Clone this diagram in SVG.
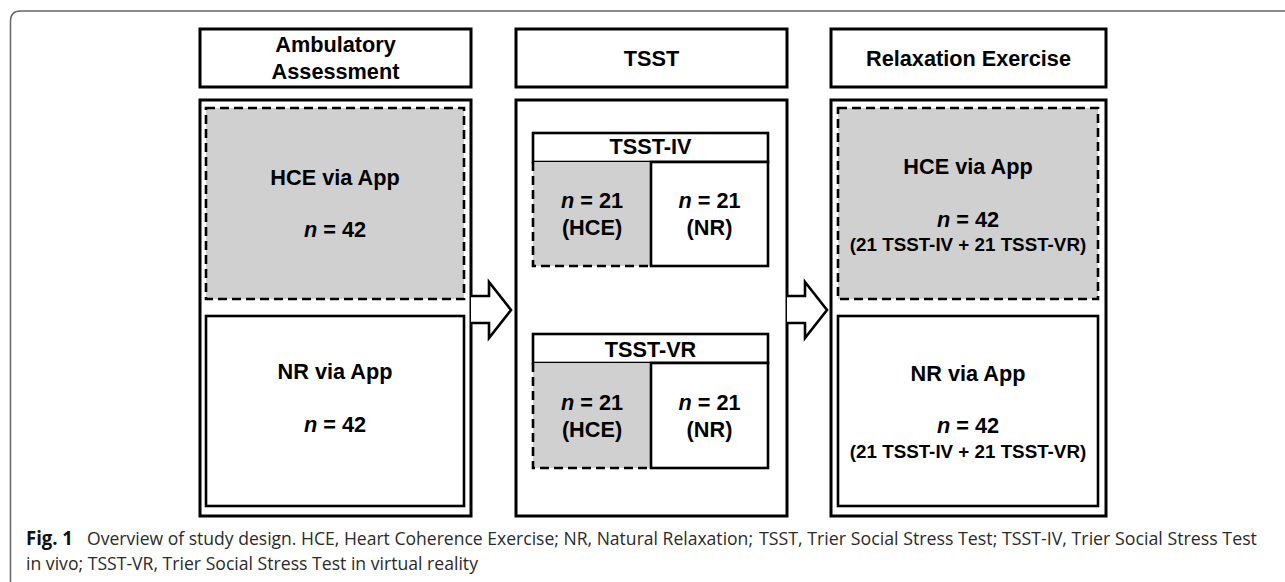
<svg xmlns="http://www.w3.org/2000/svg" width="1285" height="582" viewBox="0 0 1285 582">
<style>
.box{fill:#fff;stroke:#000;stroke-width:3}
.inner{fill:#fff;stroke:#000;stroke-width:2.6}
.gray{fill:#d1d0d1;stroke:none}
.dash{fill:none;stroke:#000;stroke-width:2.6;stroke-dasharray:9 5}
.t{font-family:"Liberation Sans",Arial,sans-serif;font-weight:bold;font-size:21.7px;fill:#000;text-anchor:middle}
.s{font-size:18.8px}
.i{font-style:italic}
.arrow{fill:#fff;stroke:#000;stroke-width:2.6;stroke-linejoin:miter}
.cap{font-family:"Open Sans","Noto Sans",sans-serif;font-weight:400;font-size:19px;fill:#2a2a2a}
.capb{font-weight:700;fill:#111}
</style>
<rect width="1285" height="582" fill="#fff"/>
<path d="M10.5,582 V21 Q10.5,11 20.5,11 H1285" fill="none" stroke="#666" stroke-width="1.5"/>

<g id="col1">
  <g id="col1-header">
    <rect class="box" x="200" y="29" width="271" height="58"/>
    <text class="t" x="335.5" y="52">Ambulatory</text>
    <text class="t" x="335.5" y="79">Assessment</text>
  </g>
  <rect class="box" x="200" y="100" width="271" height="416"/>
  <g id="col1-hce">
    <rect class="gray" x="206" y="108" width="258" height="191"/>
    <rect class="dash" x="206" y="108" width="258" height="191"/>
    <text class="t" x="335" y="185">HCE via App</text>
    <text class="t" x="335" y="237"><tspan class="i">n</tspan> = 42</text>
  </g>
  <g id="col1-nr">
    <rect class="inner" x="206" y="316" width="258" height="190"/>
    <text class="t" x="335" y="379">NR via App</text>
    <text class="t" x="335" y="432"><tspan class="i">n</tspan> = 42</text>
  </g>
</g>

<g id="col2">
  <g id="col2-header">
    <rect class="box" x="516" y="29" width="271" height="58"/>
    <text class="t" x="651.5" y="66">TSST</text>
  </g>
  <rect class="box" x="516" y="100" width="271" height="416"/>
  <g id="tsst-iv">
    <rect class="inner" x="533" y="133" width="235" height="29"/>
    <text class="t" x="650.5" y="154">TSST-IV</text>
    <rect class="gray" x="533" y="162" width="118" height="104"/>
    <path class="dash" d="M533,162 V266 H651"/>
    <rect class="inner" x="651" y="162" width="117" height="104"/>
    <text class="t" x="592" y="208"><tspan class="i">n</tspan> = 21</text>
    <text class="t" x="592" y="235">(HCE)</text>
    <text class="t" x="709.5" y="208"><tspan class="i">n</tspan> = 21</text>
    <text class="t" x="709.5" y="235">(NR)</text>
  </g>
  <g id="tsst-vr">
    <rect class="inner" x="533" y="334" width="235" height="29"/>
    <text class="t" x="650.5" y="357">TSST-VR</text>
    <rect class="gray" x="533" y="363" width="118" height="105"/>
    <path class="dash" d="M533,363 V468 H651"/>
    <rect class="inner" x="651" y="363" width="117" height="105"/>
    <text class="t" x="592" y="410"><tspan class="i">n</tspan> = 21</text>
    <text class="t" x="592" y="437">(HCE)</text>
    <text class="t" x="709.5" y="410"><tspan class="i">n</tspan> = 21</text>
    <text class="t" x="709.5" y="437">(NR)</text>
  </g>
</g>

<g id="col3">
  <g id="col3-header">
    <rect class="box" x="831" y="29" width="275" height="58"/>
    <text class="t" x="968.5" y="66">Relaxation Exercise</text>
  </g>
  <rect class="box" x="831" y="100" width="275" height="416"/>
  <g id="col3-hce">
    <rect class="gray" x="838" y="108" width="260" height="191"/>
    <rect class="dash" x="838" y="108" width="260" height="191"/>
    <text class="t" x="968" y="174">HCE via App</text>
    <text class="t" x="968" y="227"><tspan class="i">n</tspan> = 42</text>
    <text class="t s" x="968" y="251">(21 TSST-IV + 21 TSST-VR)</text>
  </g>
  <g id="col3-nr">
    <rect class="inner" x="838" y="316" width="260" height="190"/>
    <text class="t" x="968" y="381">NR via App</text>
    <text class="t" x="968" y="433"><tspan class="i">n</tspan> = 42</text>
    <text class="t s" x="968" y="458">(21 TSST-IV + 21 TSST-VR)</text>
  </g>
</g>

<g id="connectors">
  <path class="arrow" d="M471,296 H489 V282 L511,310 L489,338 V323 H471"/>
  <path class="arrow" d="M787,296 H805 V282 L827,310 L805,338 V323 H787"/>
</g>

<g id="caption" transform="scale(0.82,1)">
  <text class="cap capb" x="31.7" y="545" textLength="57.3" lengthAdjust="spacingAndGlyphs">Fig. 1</text>
  <text class="cap" x="106.1" y="545" textLength="812.2" lengthAdjust="spacingAndGlyphs">Overview of study design. HCE, Heart Coherence Exercise; NR, Natural Relaxation;</text>
  <text class="cap" x="925.6" y="545" textLength="607.3" lengthAdjust="spacingAndGlyphs">TSST, Trier Social Stress Test; TSST-IV, Trier Social Stress Test</text>
  <text class="cap" x="31.7" y="570" textLength="551.2" lengthAdjust="spacingAndGlyphs">in vivo; TSST-VR, Trier Social Stress Test in virtual reality</text>
</g>
</svg>
